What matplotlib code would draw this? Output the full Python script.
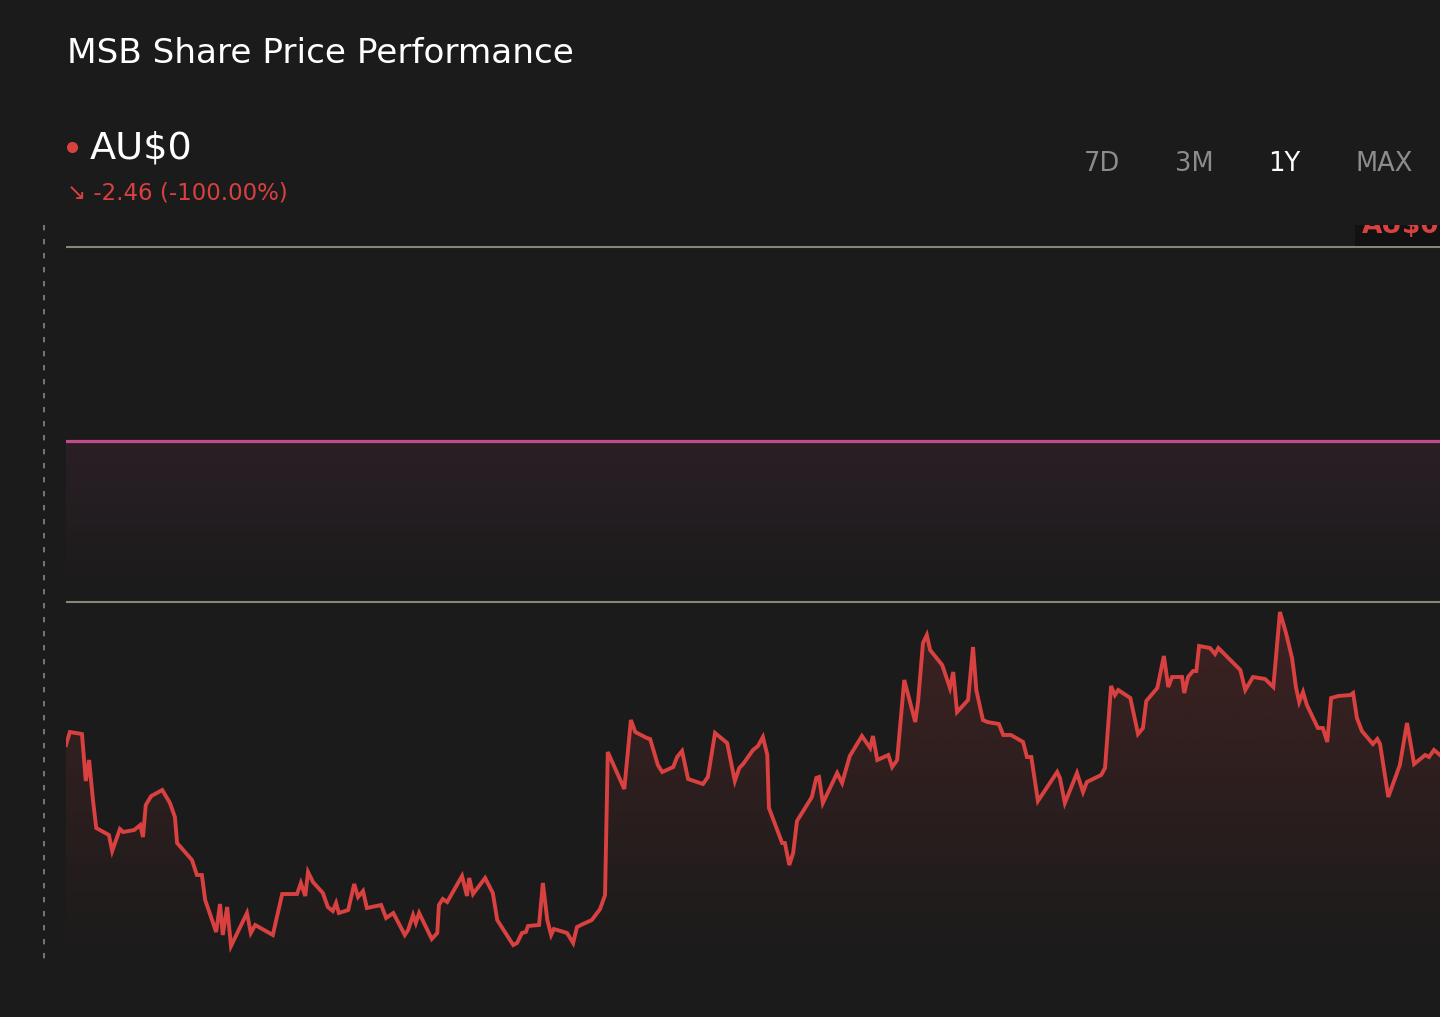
import numpy as np
import matplotlib
matplotlib.use("Agg")
import matplotlib.pyplot as plt
from matplotlib.lines import Line2D
from matplotlib.colors import to_rgb

# ---- data ----
days = [0.0, 0.7, 2.9, 3.6, 4.2, 4.9, 5.5, 7.8, 8.4, 9.8, 10.4, 12.4, 13.5, 14.0, 14.5,
        15.5, 17.5, 18.9, 19.8, 20.2, 22.9, 23.8, 24.7, 25.3, 27.3, 28.0, 28.5, 29.3, 30.0,
        32.9, 33.6, 34.4, 37.6, 39.3, 42.0, 42.7, 43.5, 44.0, 44.9, 46.7, 47.6, 48.5, 49.1,
        49.6, 51.3, 52.4, 53.1, 54.0, 54.7, 57.3, 58.2, 59.5, 61.6, 62.2, 63.1, 63.6, 64.2,
        66.5, 67.5, 67.8, 68.5, 69.3, 72.0, 72.9, 73.3, 74.0, 76.2, 77.6, 78.4, 81.3, 82.0,
        82.9, 83.6, 84.0, 86.0, 86.7, 87.5, 88.2, 88.7, 91.1, 92.2, 92.9, 94.0, 95.6, 97.1,
        98.0, 98.5, 101.5, 102.7, 103.5, 105.6, 106.2, 107.6, 108.4, 110.4, 111.1, 112.0,
        113.1, 115.3, 115.8, 116.7, 118.0, 120.2, 121.6, 122.4, 123.1, 124.9, 125.8, 126.7,
        127.5, 127.8, 130.2, 130.7, 131.5, 132.2, 132.9, 135.6, 136.4, 136.9, 137.6, 140.2,
        141.1, 142.5, 144.7, 146.2, 146.7, 147.5, 149.5, 150.2, 151.1, 152.4, 154.4, 154.9,
        155.8, 156.5, 157.1, 159.3, 160.7, 161.3, 162.0, 164.0, 164.9, 165.5, 166.7, 167.5,
        169.6, 170.4, 171.8, 174.0, 174.7, 175.5, 176.7, 180.2, 180.7, 181.6, 183.8, 184.9,
        185.6, 188.2, 188.9, 190.0, 190.7, 191.3, 193.5, 194.9, 195.8, 196.4, 198.4, 199.6,
        200.4, 201.1, 202.9, 203.3, 204.0, 204.9, 205.5, 206.0, 208.0, 208.9, 209.5, 213.5,
        214.4, 215.8, 218.0, 219.5, 220.7, 221.8, 222.9, 223.6, 224.2, 224.9, 225.6, 227.6,
        228.5, 229.3, 230.0, 231.3, 233.5, 234.0, 234.7, 235.6, 237.6, 238.4, 238.9, 240.4,
        242.5, 243.8, 245.1, 247.1, 247.8, 248.7, 249.8]

prices = [2.457, 2.470, 2.468, 2.421, 2.442, 2.402, 2.374, 2.367, 2.351, 2.373, 2.370,
          2.372, 2.377, 2.365, 2.397, 2.406, 2.412, 2.399, 2.385, 2.359, 2.342, 2.327,
          2.327, 2.302, 2.270, 2.298, 2.267, 2.295, 2.256, 2.289, 2.269, 2.277, 2.267,
          2.308, 2.308, 2.319, 2.306, 2.330, 2.320, 2.309, 2.295, 2.291, 2.299, 2.289,
          2.292, 2.318, 2.305, 2.311, 2.294, 2.297, 2.284, 2.289, 2.267, 2.272, 2.287,
          2.279, 2.289, 2.263, 2.269, 2.297, 2.303, 2.300, 2.326, 2.306, 2.324, 2.308,
          2.324, 2.309, 2.282, 2.257, 2.259, 2.269, 2.270, 2.276, 2.277, 2.319, 2.282,
          2.267, 2.273, 2.269, 2.259, 2.275, 2.278, 2.282, 2.293, 2.307, 2.450, 2.413,
          2.482, 2.470, 2.464, 2.463, 2.437, 2.430, 2.435, 2.445, 2.451, 2.423, 2.419,
          2.418, 2.425, 2.469, 2.459, 2.421, 2.434, 2.438, 2.452, 2.456, 2.465, 2.447,
          2.394, 2.359, 2.359, 2.337, 2.349, 2.381, 2.405, 2.424, 2.425, 2.399, 2.429,
          2.419, 2.446, 2.466, 2.454, 2.466, 2.442, 2.447, 2.435, 2.442, 2.522, 2.480,
          2.500, 2.559, 2.567, 2.552, 2.537, 2.514, 2.530, 2.490, 2.502, 2.555, 2.512,
          2.482, 2.480, 2.478, 2.467, 2.467, 2.460, 2.445, 2.445, 2.401, 2.430, 2.424,
          2.399, 2.429, 2.410, 2.420, 2.427, 2.434, 2.516, 2.507, 2.512, 2.504, 2.468,
          2.474, 2.501, 2.514, 2.546, 2.515, 2.525, 2.525, 2.509, 2.525, 2.531, 2.531,
          2.556, 2.554, 2.548, 2.554, 2.532, 2.512, 2.525, 2.523, 2.515, 2.590, 2.569,
          2.544, 2.515, 2.500, 2.510, 2.497, 2.474, 2.474, 2.460, 2.504, 2.506, 2.507,
          2.509, 2.484, 2.471, 2.458, 2.463, 2.458, 2.405, 2.437, 2.479, 2.438, 2.447,
          2.445, 2.452, 2.447]

grid_levels = [2.600, 2.955]
ref_level = 2.761
y_range = (2.237, 2.977)
x_range = (0.0, 249.8)

title = "MSB Share Price Performance"
price_label = "AU$0"
change_label = "\u2198 -2.46 (-100.00%)"
periods = ["7D", "3M", "1Y", "MAX"]
period_x = [1102, 1194, 1284, 1384]
active_period = "1Y"

# ---- styling ----
BG = "#1b1b1b"
RED = "#d94141"
PINK = "#c44b8c"
GRID = "#8a8577"
W, H = 1440, 1017

fig = plt.figure(figsize=(W / 100, H / 100), dpi=100)
fig.patch.set_facecolor(BG)


def fx(px):
    return px / W


def fy(py):
    return 1 - py / H


ax = fig.add_axes([fx(66), fy(965), fx(1440) - fx(66), fy(225) - fy(965)])
ax.set_facecolor(BG)
ax.set_xlim(*x_range)
ax.set_ylim(*y_range)
ax.axis("off")

# reference band (pink line with fading fill)
band = np.zeros((256, 1, 4))
band[:, 0, :3] = to_rgb(PINK)
band[:, 0, 3] = np.linspace(0.0, 0.09, 256)
ax.imshow(band, extent=[x_range[0], x_range[1], grid_levels[0], ref_level],
          origin="lower", aspect="auto", zorder=1, interpolation="bilinear")

for g in grid_levels:
    ax.axhline(g, color=GRID, lw=1.5, zorder=2)
ax.axhline(ref_level, color=PINK, lw=2.3, zorder=3)

# gradient fill under price line
grad = np.zeros((256, 1, 4))
grad[:, 0, :3] = to_rgb(RED)
grad[:, 0, 3] = np.linspace(0.0, 0.19, 256)
top = max(prices)
im = ax.imshow(grad, extent=[x_range[0], x_range[1], y_range[0], top],
               origin="lower", aspect="auto", zorder=4, interpolation="bilinear")
poly = ax.fill_between(days, prices, y_range[0], facecolor="none", edgecolor="none")
im.set_clip_path(poly.get_paths()[0], transform=ax.transData)

ax.plot(days, prices, color=RED, lw=2.8, zorder=5, solid_joinstyle="miter")

# clipped current price tag at the top right
ax.text(0.9432, 0.989, price_label, transform=ax.transAxes, ha="left", va="baseline",
        fontsize=19, fontweight="bold", color=RED, clip_on=True, zorder=6,
        bbox=dict(boxstyle="square,pad=0.25", facecolor="#121212", edgecolor="none"))

# dashed vertical guide on the left
fig.add_artist(Line2D([fx(44), fx(44)], [fy(225), fy(965)], transform=fig.transFigure,
                      color="#858585", lw=1.2, linestyle=(0, (3.2, 5.2))))

# header texts
fig.text(fx(67), fy(63), title, color="white", fontsize=24.7, ha="left", va="baseline")
fig.add_artist(Line2D([fx(72)], [fy(147)], transform=fig.transFigure, marker="o",
                      markersize=7, color=RED, linestyle="none"))
fig.text(fx(90), fy(159), price_label, color="white", fontsize=27.5, ha="left", va="baseline")
fig.text(fx(67), fy(200), change_label, color=RED, fontsize=16.5, ha="left", va="baseline")

for label, px in zip(periods, period_x):
    c = "white" if label == active_period else "#8c8c8c"
    fig.text(fx(px), fy(171), label, color=c, fontsize=18.5, ha="center", va="baseline")

fig.savefig("out.png", dpi=100, facecolor=BG)
